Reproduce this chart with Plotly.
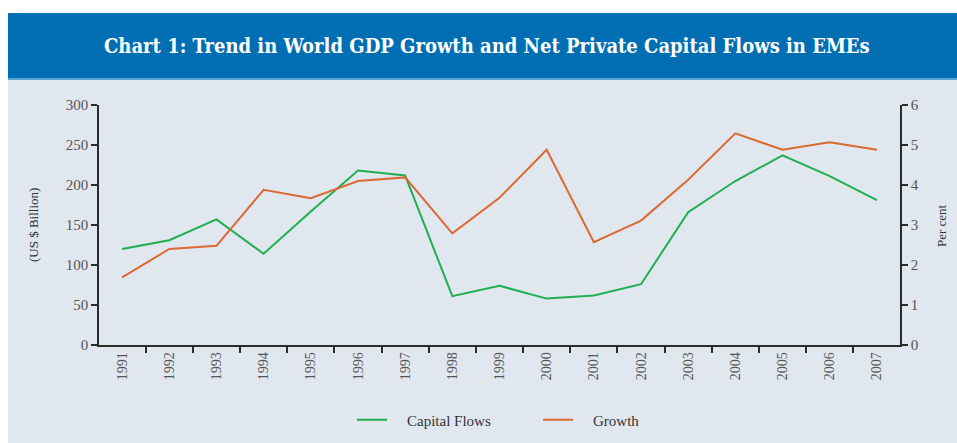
import plotly.graph_objects as go

years = [str(y) for y in range(1991, 2008)]
capital_flows = [120, 131, 157, 114, 167, 218, 212, 61, 74, 58, 62, 76, 166, 205, 237, 211, 181]
growth = [1.69, 2.4, 2.48, 3.88, 3.67, 4.1, 4.19, 2.79, 3.68, 4.88, 2.57, 3.11, 4.13, 5.29, 4.88, 5.07, 4.88]
left_ticks = [0, 50, 100, 150, 200, 250, 300]
right_ticks = [0, 1, 2, 3, 4, 5, 6]

title_text = "Chart 1: Trend in World GDP Growth and Net Private Capital Flows in EMEs"
serif = "Liberation Serif"
bg = "#E1E7EF"
axis_col = "#2b2b2b"
label_col = "#555555"
pad = "\u00a0\u00a0\u00a0\u00a0"

fig = go.Figure()
fig.add_trace(go.Scatter(x=years, y=capital_flows, name=pad + "Capital Flows", mode="lines",
                         line=dict(color="#1FAF50", width=2), yaxis="y"))
fig.add_trace(go.Scatter(x=years, y=growth, name=pad + "Growth", mode="lines",
                         line=dict(color="#DB6A32", width=2), yaxis="y2"))

fig.update_layout(
    width=957, height=443,
    margin=dict(l=99, r=57, t=105, b=98, autoexpand=False),
    paper_bgcolor="white",
    plot_bgcolor=bg,
    font=dict(family=serif, color=label_col, size=14),
    xaxis=dict(type="category", range=[-0.49, 16.49], showgrid=False, zeroline=False,
               showline=True, linecolor=axis_col, linewidth=1.5, automargin=False,
               ticks="outside", tickson="boundaries", ticklen=6, tickcolor=axis_col, tickwidth=1.5,
               tickangle=-90, tickfont=dict(size=14, color=label_col)),
    yaxis=dict(range=[0, 300], tickvals=left_ticks, showgrid=False, zeroline=False,
               showline=True, linecolor=axis_col, linewidth=1.5, automargin=False,
               ticks="outside", ticklen=6, tickcolor=axis_col, tickwidth=1.5,
               tickfont=dict(size=15, color=label_col)),
    yaxis2=dict(range=[0, 6], tickvals=right_ticks, overlaying="y", side="right",
                showgrid=False, zeroline=False, showline=True, linecolor=axis_col, linewidth=1.5,
                automargin=False,
                ticks="outside", ticklen=6, tickcolor=axis_col, tickwidth=1.5,
                tickfont=dict(size=15, color=label_col)),
    showlegend=True,
    legend=dict(orientation="h", x=(352-99)/801, xanchor="left", y=-0.3125, yanchor="middle",
                bgcolor="rgba(0,0,0,0)", font=dict(size=15, color="#333333"),
                entrywidth=141, entrywidthmode="pixels"),
    shapes=[
        dict(type="rect", xref="paper", yref="paper", x0=-99/801, x1=1+57/801,
             y0=-98/240, y1=(345-80)/240, fillcolor=bg, line=dict(width=0), layer="below"),
        dict(type="rect", xref="paper", yref="paper", x0=(8-99)/801, x1=1+57/801,
             y0=(345-80)/240, y1=(345-13)/240, fillcolor="#006EB2", line=dict(width=0), layer="below"),
        dict(type="rect", xref="paper", yref="paper", x0=(8-99)/801, x1=1+57/801,
             y0=(345-80)/240, y1=(345-78)/240, fillcolor="#5FA3D3", line=dict(width=0), layer="below"),
        dict(type="rect", xref="paper", yref="paper", x0=-99/801, x1=(8-99)/801,
             y0=-98/240, y1=(345-80)/240, fillcolor="white", line=dict(width=0), layer="below"),
    ],
    annotations=[
        dict(text="<b>" + title_text + "</b>", xref="paper", yref="paper", x=(487-99)/801, y=(345-46)/240,
             xanchor="center", yanchor="middle", showarrow=False,
             font=dict(family="DejaVu Serif Condensed", size=20, color="white")),
        dict(text="(US $ Billion)", xref="paper", yref="paper", x=(33-99)/801, y=(345-225)/240,
             xanchor="center", yanchor="middle", showarrow=False, textangle=-90,
             font=dict(size=13, color="#333333")),
        dict(text="Per cent", xref="paper", yref="paper", x=(941-99)/801, y=(345-225)/240,
             xanchor="center", yanchor="middle", showarrow=False, textangle=-90,
             font=dict(size=13, color="#333333")),
    ],
)

fig.write_html("out.html", config={"displayModeBar": False},
               post_script="document.body.style.margin='0';document.body.style.padding='0';")
